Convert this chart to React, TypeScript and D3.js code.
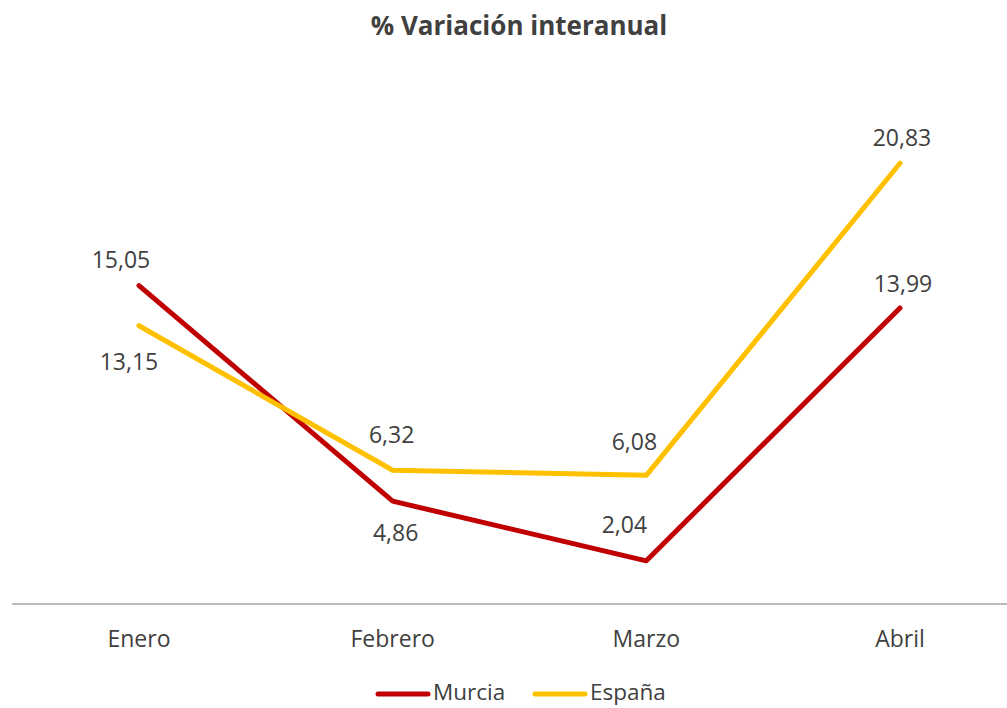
import React from "react";
import * as d3 from "d3";

const categories = ["Enero", "Febrero", "Marzo", "Abril"];
const murcia = [15.05, 4.86, 2.04, 13.99];
const espana = [13.15, 6.32, 6.08, 20.83];
const seriesNames = ["Murcia", "España"];

// label placement (styling): position relative to point
const murciaLabelPos = [
  { dy: -27, dx: -18 },
  { dy: 31, dx: 3 },
  { dy: -37, dx: -22 },
  { dy: -25, dx: 3 },
];
const espanaLabelPos = [
  { dy: 35, dx: -10 },
  { dy: -36, dx: -1 },
  { dy: -35, dx: -12 },
  { dy: -26, dx: 2 },
];

const W = 1007;
const H = 708;
const FONT = "Open Sans, Lato, sans-serif";
const TEXT = "#404040";
const COLORS = ["#C00000", "#FFC000"];
const TY = 3; // vertical text correction

export default function App() {
  const x = d3.scalePoint<string>().domain(categories).range([139, 900]);
  const y = d3.scaleLinear().domain([0, 25]).range([604, 75]);
  const line = d3
    .line<number>()
    .x((_, i) => x(categories[i]) as number)
    .y((d) => y(d));
  const fmt = (v: number) => v.toFixed(2).replace(".", ",");
  const series = [
    { name: seriesNames[0], values: murcia, pos: murciaLabelPos, color: COLORS[0] },
    { name: seriesNames[1], values: espana, pos: espanaLabelPos, color: COLORS[1] },
  ];
  return (
    <svg
      width={W}
      height={H}
      style={{ position: "absolute", left: 0, top: 0, background: "#fff" }}
      fontFamily={FONT}
    >
      <text
        x={519}
        y={25 + TY}
        textAnchor="middle"
        dominantBaseline="middle"
        fontSize={26}
        fontWeight="bold"
        fill={TEXT}
      >
        % Variación interanual
      </text>
      <line x1={12} x2={1007} y1={y(0)} y2={y(0)} stroke="#a6a6a6" strokeWidth={1.5} />
      {categories.map((c) => (
        <text
          key={c}
          x={x(c)}
          y={638 + TY}
          textAnchor="middle"
          dominantBaseline="middle"
          fontSize={23}
          fill={TEXT}
        >
          {c}
        </text>
      ))}
      {series.map((s) => (
        <path
          key={s.name}
          d={line(s.values) || ""}
          fill="none"
          stroke={s.color}
          strokeWidth={5}
          strokeLinejoin="round"
          strokeLinecap="round"
        />
      ))}
      {series.map((s) =>
        s.values.map((v, i) => (
          <text
            key={s.name + i}
            x={(x(categories[i]) as number) + s.pos[i].dx}
            y={y(v) + s.pos[i].dy + TY}
            textAnchor="middle"
            dominantBaseline="middle"
            fontSize={23}
            fill={TEXT}
          >
            {fmt(v)}
          </text>
        ))
      )}
      {series.map((s, i) => {
        const lx = i === 0 ? 376 : 533;
        return (
          <g key={"lg" + s.name}>
            <line
              x1={lx + 2}
              x2={lx + 52}
              y1={694}
              y2={694}
              stroke={s.color}
              strokeWidth={5}
              strokeLinecap="round"
            />
            <text x={lx + 57} y={700} fontSize={22.5} fill={TEXT}>
              {s.name}
            </text>
          </g>
        );
      })}
    </svg>
  );
}
